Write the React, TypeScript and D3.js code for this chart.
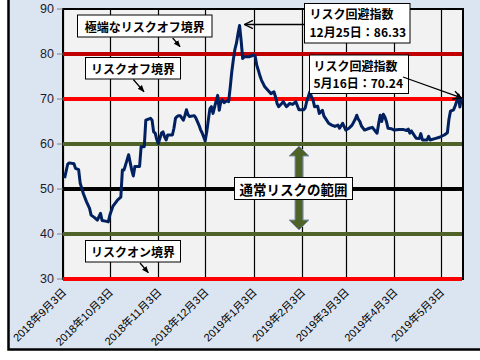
import React from "react";
import * as d3 from "d3";

const dates: string[] = [
  "2018-09-04","2018-09-06","2018-09-07","2018-09-10","2018-09-11","2018-09-13","2018-09-14","2018-09-16","2018-09-18","2018-09-20",
  "2018-09-21","2018-09-23","2018-09-25","2018-09-27","2018-09-28","2018-10-01","2018-10-02","2018-10-03","2018-10-05","2018-10-08",
  "2018-10-10","2018-10-11","2018-10-12","2018-10-13","2018-10-15","2018-10-17","2018-10-18","2018-10-19","2018-10-22","2018-10-23",
  "2018-10-25","2018-10-26","2018-10-29","2018-10-30","2018-10-31","2018-11-01","2018-11-02","2018-11-03","2018-11-05","2018-11-06",
  "2018-11-07","2018-11-08","2018-11-09","2018-11-12","2018-11-13","2018-11-14","2018-11-15","2018-11-16","2018-11-17","2018-11-19",
  "2018-11-20","2018-11-21","2018-11-22","2018-11-23","2018-11-26","2018-11-27","2018-11-29","2018-11-30","2018-12-01","2018-12-03",
  "2018-12-04","2018-12-05","2018-12-06","2018-12-07","2018-12-08","2018-12-10","2018-12-11","2018-12-12","2018-12-13","2018-12-14",
  "2018-12-15","2018-12-17","2018-12-18","2018-12-19","2018-12-20","2018-12-21","2018-12-22","2018-12-23","2018-12-24","2018-12-25",
  "2018-12-26","2018-12-27","2018-12-28","2018-12-31","2019-01-02","2019-01-03","2019-01-04","2019-01-05","2019-01-06","2019-01-07",
  "2019-01-08","2019-01-10","2019-01-11","2019-01-12","2019-01-14","2019-01-16","2019-01-17","2019-01-18","2019-01-19","2019-01-21",
  "2019-01-22","2019-01-24","2019-01-25","2019-01-26","2019-01-28","2019-01-29","2019-01-30","2019-02-01","2019-02-04","2019-02-05",
  "2019-02-06","2019-02-07","2019-02-08","2019-02-09","2019-02-10","2019-02-11","2019-02-13","2019-02-14","2019-02-16","2019-02-17",
  "2019-02-18","2019-02-20","2019-02-22","2019-02-24","2019-02-26","2019-02-27","2019-03-01","2019-03-03","2019-03-05","2019-03-07",
  "2019-03-09","2019-03-10","2019-03-11","2019-03-12","2019-03-13","2019-03-15","2019-03-18","2019-03-20","2019-03-22","2019-03-23",
  "2019-03-24","2019-03-25","2019-03-26","2019-03-27","2019-03-28","2019-03-29","2019-03-30","2019-04-01","2019-04-03","2019-04-06",
  "2019-04-09","2019-04-11","2019-04-12","2019-04-13","2019-04-14","2019-04-16","2019-04-17","2019-04-19","2019-04-20","2019-04-21",
  "2019-04-24","2019-04-25","2019-04-26","2019-04-29","2019-05-02","2019-05-05","2019-05-07","2019-05-08","2019-05-09","2019-05-11",
  "2019-05-12","2019-05-13","2019-05-14","2019-05-15","2019-05-16"
];

const riskIndex: number[] = [
  52.4,55.5,55.8,55.6,54.6,54.3,51.3,49.0,47.2,45.7,
  44.2,43.7,43.1,44.6,43.0,42.8,42.7,44.2,46.2,47.6,
  48.2,54.2,54.2,55.3,57.6,54.2,52.9,55.0,55.0,59.4,
  59.4,65.3,65.7,65.3,62.7,62.4,61.0,60.1,62.4,62.7,
  61.6,60.9,62.0,62.0,63.5,65.7,66.1,66.3,66.3,65.3,
  66.3,67.6,66.5,66.1,66.3,65.8,64.2,63.2,62.5,60.7,
  62.7,65.3,67.8,68.3,66.8,69.6,70.8,67.5,69.4,69.8,
  69.2,69.6,69.4,72.5,76.0,78.7,81.0,82.4,84.5,86.33,
  83.0,79.0,79.4,79.4,79.6,79.8,79.5,77.5,76.4,75.2,
  74.2,72.8,72.4,72.0,71.2,71.6,70.5,69.0,68.3,69.0,
  69.4,68.3,68.6,69.0,68.8,69.1,69.4,67.6,67.6,68.0,
  69.5,70.5,71.6,70.5,69.8,68.3,68.4,66.8,67.5,66.2,
  65.7,64.6,64.2,63.9,64.2,63.5,64.6,63.1,63.5,64.2,
  65.5,66.4,65.5,65.0,64.0,63.1,63.5,63.7,62.8,62.4,
  64.5,66.4,65.0,66.6,66.0,65.0,63.5,63.4,63.1,63.2,
  63.2,63.0,63.3,62.4,62.9,61.8,61.3,61.2,62.3,60.9,
  60.9,61.7,60.9,61.2,61.5,62.0,62.5,65.5,67.3,67.6,
  68.5,69.5,70.9,68.2,70.24
];

const xTickDates: string[] = [
  "2018-09-03","2018-10-03","2018-11-03","2018-12-03","2019-01-03",
  "2019-02-03","2019-03-03","2019-04-03","2019-05-03"
];
const xTickLabels: string[] = [
  "2018年9月3日","2018年10月3日","2018年11月3日","2018年12月3日","2019年1月3日",
  "2019年2月3日","2019年3月3日","2019年4月3日","2019年5月3日"
];
const yTicks: number[] = [30, 40, 50, 60, 70, 80, 90];

const refLevels: number[] = [80, 70, 60, 50, 40, 30];
const refColors: string[] = ["#c00000", "#ff0000", "#4f6228", "#000000", "#4f6228", "#ff0000"];

const peakDate = "2018-12-25";
const peakValue = 86.33;
const lastDate = "2019-05-16";
const lastValue = 70.24;

const parse = d3.timeParse("%Y-%m-%d");

export default function App() {
  const left = 63, right = 463, top = 9, bottom = 279;
  const x = d3.scaleTime()
    .domain([parse("2018-09-03")!, parse("2019-05-17")!])
    .range([left, right]);
  const y = d3.scaleLinear().domain([30, 90]).range([bottom, top]);

  const pts = dates.map((d, i) => [x(parse(d)!), y(riskIndex[i])] as [number, number]);
  const pathD = d3.line<[number, number]>()(pts) || "";

  const jp = "'Noto Sans CJK JP', sans-serif";
  const num = "'Liberation Sans', 'Noto Sans CJK JP', sans-serif";

  const px = x(parse(peakDate)!);
  const lx = x(parse(lastDate)!);
  const ly = y(lastValue);

  const ax = 299;
  const aTop = y(60) + 2;
  const aBot = y(40) - 4;
  const hw = 10, hh = 10, sw = 4;
  const dblArrow = [
    [ax, aTop], [ax + hw, aTop + hh], [ax + sw, aTop + hh], [ax + sw, aBot - hh],
    [ax + hw, aBot - hh], [ax, aBot], [ax - hw, aBot - hh], [ax - sw, aBot - hh],
    [ax - sw, aTop + hh], [ax - hw, aTop + hh]
  ].map(p => p.join(",")).join(" ");

  return (
    <svg width={480} height={360} style={{ position: "absolute", left: 0, top: 0 }}>
      <defs>
        <marker id="fill" viewBox="0 0 10 10" refX="9" refY="5" markerWidth="7" markerHeight="7" orient="auto" markerUnits="userSpaceOnUse">
          <path d="M0,1 L10,5 L0,9 z" fill="#000" />
        </marker>
        <marker id="open" viewBox="0 0 12 12" refX="11" refY="6" markerWidth="10" markerHeight="10" orient="auto" markerUnits="userSpaceOnUse">
          <path d="M1,1 L11,6 L1,11" fill="none" stroke="#000" strokeWidth="1.6" />
        </marker>
      </defs>
      <rect x={0} y={0} width={480} height={360} fill="#ffffff" />
      <rect x={8.5} y={-10} width={490} height={359.5} fill="#dbe5f1" stroke="#000" strokeWidth={2.5} />
      <rect x={left} y={top} width={right - left} height={bottom - top} fill="#f2f2f2" />

      {xTickDates.map((d, i) => {
        const xx = Math.round(x(parse(d)!)) + 0.5;
        return <line key={"g" + i} x1={xx} x2={xx} y1={top} y2={bottom} stroke="#000" strokeWidth={1.2} />;
      })}

      <rect x={left} y={top} width={right - left} height={bottom - top} fill="none" stroke="#000" strokeWidth={2} />

      {yTicks.map(t => (
        <g key={"y" + t}>
          <line x1={57} x2={left} y1={y(t)} y2={y(t)} stroke="#808080" strokeWidth={1} />
          <text x={54} y={y(t)} dy="0.35em" textAnchor="end" fontFamily={num} fontSize={12.5} fill="#1a1a2e">{t}</text>
        </g>
      ))}

      {refLevels.map((v, i) => (
        <line key={"r" + v} x1={left} x2={right - 1} y1={y(v)} y2={y(v)} stroke={refColors[i]} strokeWidth={4} />
      ))}

      {xTickDates.map((d, i) => {
        const xx = x(parse(d)!);
        return (
          <text key={"xl" + i} transform={`translate(${xx + 4},${bottom + 14}) rotate(-45)`} textAnchor="end"
            fontFamily={num} fontSize={11} fill="#000">{xTickLabels[i]}</text>
        );
      })}

      <path d={pathD} fill="none" stroke="#002060" strokeWidth={3} strokeLinejoin="round" />

      <polygon points={dblArrow} fill="#4f6228" stroke="#7f93b0" strokeWidth={1} />

      <rect x={77.5} y={15} width={134.5} height={22} fill="#fff" stroke="#000" strokeWidth={1} />
      <text x={144.7} y={26.3} dominantBaseline="central" textAnchor="middle" fontFamily={jp} fontWeight="bold" fontSize={12} fill="#000">極端なリスクオフ境界</text>
      <line x1={172.7} y1={38} x2={180} y2={46.7} stroke="#000" strokeWidth={1.3} markerEnd="url(#fill)" />

      <rect x={85.5} y={57.5} width={95} height={21.5} fill="#fff" stroke="#000" strokeWidth={1} />
      <text x={133} y={68.5} dominantBaseline="central" textAnchor="middle" fontFamily={jp} fontWeight="bold" fontSize={12} fill="#000">リスクオフ境界</text>
      <line x1={133.3} y1={79.5} x2={144} y2={91.7} stroke="#000" strokeWidth={1.3} markerEnd="url(#fill)" />

      <rect x={85.5} y={240.5} width={95} height={21.5} fill="#fff" stroke="#000" strokeWidth={1} />
      <text x={133} y={251.5} dominantBaseline="central" textAnchor="middle" fontFamily={jp} fontWeight="bold" fontSize={12} fill="#000">リスクオン境界</text>
      <line x1={140} y1={263} x2={148.3} y2={272.7} stroke="#000" strokeWidth={1.3} markerEnd="url(#fill)" />

      <rect x={234.5} y={177.5} width={118} height={22} fill="#fff" stroke="#000" strokeWidth={1} />
      <text x={293.5} y={188.8} dominantBaseline="central" textAnchor="middle" fontFamily={jp} fontWeight="bold" fontSize={13.5} fill="#000">通常リスクの範囲</text>

      <rect x={304.5} y={3.5} width={105.5} height={39.5} fill="#fff" stroke="#000" strokeWidth={1} />
      <text x={309.5} y={19} fontFamily={jp} fontWeight="bold" fontSize={12} fill="#000">リスク回避指数</text>
      <text x={309.5} y={36.8} fontFamily={jp} fontWeight="bold" fontSize={12} fill="#000">{`12月25日：${peakValue.toFixed(2)}`}</text>
      <line x1={304} y1={24.5} x2={px + 5} y2={24.5} stroke="#000" strokeWidth={1.3} markerEnd="url(#open)" />

      <rect x={309.5} y={55} width={99} height={38.5} fill="#fff" stroke="#000" strokeWidth={1} />
      <text x={313.5} y={70.5} fontFamily={jp} fontWeight="bold" fontSize={12} fill="#000">リスク回避指数</text>
      <text x={313.5} y={88.2} fontFamily={jp} fontWeight="bold" fontSize={12} fill="#000">{`5月16日：${lastValue.toFixed(2)}`}</text>
      <line x1={403} y1={77} x2={lx} y2={ly} stroke="#000" strokeWidth={1.3} markerEnd="url(#open)" />
    </svg>
  );
}
